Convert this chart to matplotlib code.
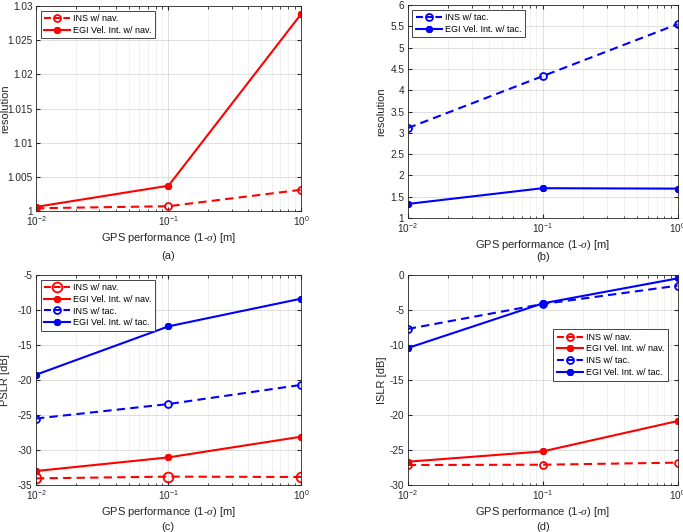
import numpy as np
import matplotlib
matplotlib.use('Agg')
import matplotlib.pyplot as plt

plt.rcParams['font.family'] = ['Liberation Sans', 'DejaVu Sans']
plt.rcParams['mathtext.fontset'] = 'custom'
plt.rcParams['mathtext.it'] = 'Liberation Serif:italic'

# data
gps = [0.01, 0.1, 1.0]

res_ins_nav = [1.0004, 1.0007, 1.0031]
res_egi_nav = [1.0006, 1.0037, 1.0288]
res_ins_tac = [3.11, 4.33, 5.55]
res_egi_tac = [1.33, 1.70, 1.69]

pslr_ins_nav = [-34.05, -33.8, -33.85]
pslr_egi_nav = [-33.0, -31.05, -28.1]
pslr_ins_tac = [-25.5, -23.43, -20.7]
pslr_egi_tac = [-19.24, -12.33, -8.38]

islr_ins_nav = [-27.14, -27.1, -26.8]
islr_egi_nav = [-26.67, -25.2, -20.86]
islr_ins_tac = [-7.7, -4.14, -1.52]
islr_egi_tac = [-10.43, -4.05, -0.48]

RED = '#ff0000'
BLUE = '#0000ff'
xlabel = r'GPS performance (1-$\sigma$) [m]'
ast = (6, 2, 0)

fig = plt.figure(figsize=(6.83, 5.32), dpi=100)


def style(ax, ylim, yticks, ylab, ylab_x):
    ax.set_xscale('log')
    ax.set_xlim(0.01, 1)
    ax.set_ylim(*ylim)
    ax.set_yticks(yticks)
    ax.set_yticklabels(['%g' % t for t in yticks])
    ax.grid(True, which='major', color='#d9d9d9', lw=0.6)
    ax.grid(True, which='minor', color='#ececec', lw=0.5)
    ax.tick_params(which='both', direction='in', top=True, right=True,
                   labelsize=7.2, colors='#262626', length=3, pad=2.5)
    ax.tick_params(which='minor', length=1.8)
    for s in ax.spines.values():
        s.set_color('#262626')
        s.set_linewidth(0.6)
    ax.set_xlabel(xlabel, fontsize=8, color='#262626', labelpad=2)
    ax.set_ylabel(ylab, fontsize=8, color='#262626')
    ax.yaxis.set_label_coords(ylab_x, 0.5)


def ins(ax, y, c, lab, ms=5):
    ax.plot(gps, y, '--o', color=c, mfc='none', mew=1.3, ms=ms, lw=1.5,
            dashes=(4, 2.5), label=lab)


def egi(ax, y, c, lab):
    ax.plot(gps, y, '-', marker=ast, color=c, mew=2.2, ms=5, lw=1.5, label=lab)


def leg(ax, **kw):
    lg = ax.legend(fontsize=6.5, frameon=True, fancybox=False, framealpha=1,
                   edgecolor='#262626', handlelength=2.9, borderpad=0.4,
                   labelspacing=0.3, handletextpad=0.3, **kw)
    lg.get_frame().set_linewidth(0.6)
    # shorter dash pattern so the handles read "- o -"
    for ln in lg.get_lines():
        if ln.get_linestyle() == '--':
            ln.set_dashes((3.33, 1.33))


# (a)
ax = fig.add_axes([0.0527, 0.6034, 0.388, 0.3853])
ins(ax, res_ins_nav, RED, 'INS w/ nav.')
egi(ax, res_egi_nav, RED, 'EGI Vel. Int. w/ nav.')
style(ax, (1, 1.03), [1, 1.005, 1.01, 1.015, 1.02, 1.025, 1.03], 'resolution', -0.098)
leg(ax, loc='upper left')

# (b)
ax = fig.add_axes([0.597, 0.5902, 0.395, 0.4004])
ins(ax, res_ins_tac, BLUE, 'INS w/ tac.')
egi(ax, res_egi_tac, BLUE, 'EGI Vel. Int. w/ tac.')
style(ax, (1, 6), np.arange(1, 6.01, 0.5), 'resolution', -0.078)
leg(ax, loc='upper left')

# (c)
ax = fig.add_axes([0.0527, 0.0883, 0.388, 0.3947])
ins(ax, pslr_ins_nav, RED, 'INS w/ nav.', ms=7)
egi(ax, pslr_egi_nav, RED, 'EGI Vel. Int. w/ nav.')
ins(ax, pslr_ins_tac, BLUE, 'INS w/ tac.')
egi(ax, pslr_egi_tac, BLUE, 'EGI Vel. Int. w/ tac.')
style(ax, (-35, -5), np.arange(-35, -4, 5), 'PSLR [dB]', -0.098)
leg(ax, loc='upper left')

# (d)
ax = fig.add_axes([0.597, 0.0883, 0.395, 0.3947])
ins(ax, islr_ins_nav, RED, 'INS w/ nav.')
egi(ax, islr_egi_nav, RED, 'EGI Vel. Int. w/ nav.')
ins(ax, islr_ins_tac, BLUE, 'INS w/ tac.')
egi(ax, islr_egi_tac, BLUE, 'EGI Vel. Int. w/ tac.')
style(ax, (-30, 0), np.arange(-30, 1, 5), 'ISLR [dB]', -0.078)
leg(ax, loc='center right', bbox_to_anchor=(0.98, 0.62))

for txt, x, y in [('(a)', 168, 256), ('(b)', 543, 257), ('(c)', 168, 527), ('(d)', 543, 527)]:
    fig.text(x / 683, 1 - y / 532, txt, ha='center', va='center', fontsize=8, color='#262626')

fig.savefig('out.png', dpi=100)
